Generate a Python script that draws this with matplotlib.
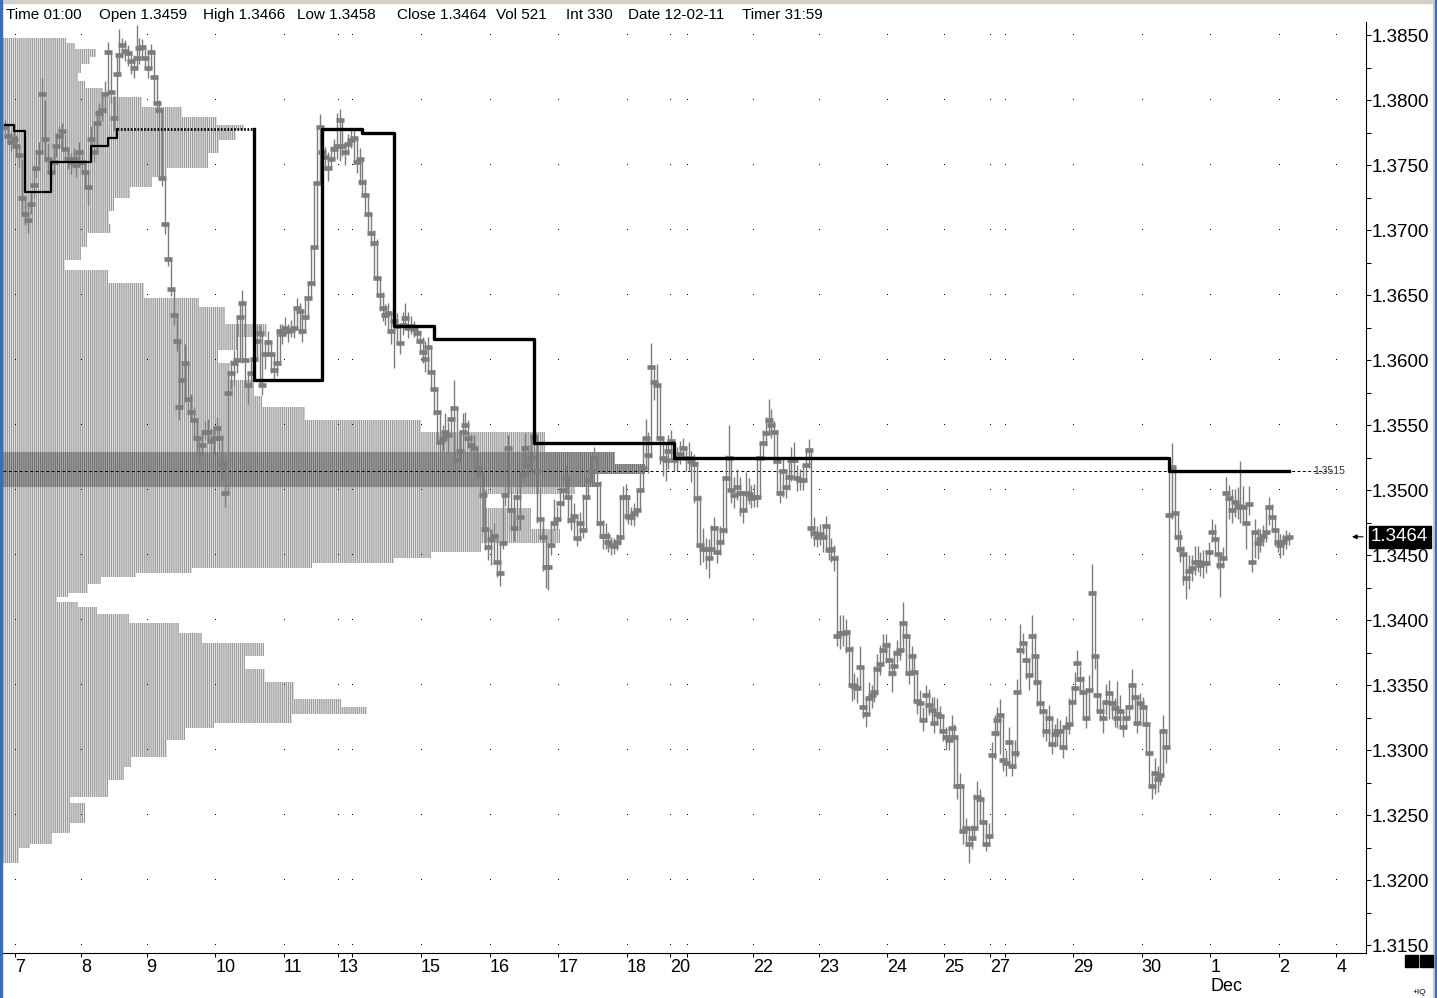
import numpy as np
import matplotlib
matplotlib.use("Agg")
from matplotlib import pyplot as plt
from matplotlib.patches import Rectangle

plt.rcParams['font.family'] = ['Liberation Sans', 'DejaVu Sans']
plt.rcParams['hatch.linewidth'] = 1.0

# hourly closes, in pips above 1.3000, one row per session
close_pips = [
    779, 772, 768, 770, 765, 758, 725, 712, 708, 720, 735, 748, 760, 805, 770, 755, 745, 752, 765, 772, 776, 762, 755, 752, 755, 750, 760,
    752, 745, 733, 770, 760, 782, 790, 792, 805, 837, 806, 786, 820, 835, 842, 838, 836, 830, 825, 832, 840, 841, 832,
    825, 837, 818, 798, 792, 740, 705, 678, 655, 635, 615, 564, 585, 598, 570, 560, 554, 540, 528, 535, 545, 545, 538, 540,
    548, 540, 520, 498, 575, 590, 598, 600, 633, 644, 600, 581, 590, 601, 615, 621, 581, 605, 614, 605, 592, 598, 622, 620,
    625, 622, 623, 625, 640, 638, 622, 633, 648, 659, 687, 736, 779, 760, 756, 748, 755, 762, 765,
    785, 765, 760, 766, 769,
    771, 752, 755, 737, 727, 712, 698, 690, 663, 650, 640, 635, 636, 622, 630, 626, 613, 627, 632, 625, 626, 624, 621, 615,
    606, 601, 610, 591, 578, 560, 537, 540, 545, 542, 555, 563, 523, 530, 545, 550, 540, 535, 532, 517, 512, 496, 470, 456,
    462, 465, 445, 436, 459, 496, 532, 485, 471, 495, 479, 512, 532, 519, 525, 541, 515, 478, 464, 441, 441, 458, 475, 478,
    490, 500, 509, 495, 477, 480, 463, 475, 469, 495, 508, 515, 525, 505, 475, 465, 465, 460, 458, 457, 460, 464, 495, 495,
    480, 479, 482, 485, 500, 517, 540, 527, 595, 583, 581, 540, 525, 523, 530,
    538, 523, 525, 528, 532, 525,
    525, 522, 520, 494, 458, 455, 455, 448, 455, 471, 452, 460, 469, 509, 525, 500, 496, 502, 498, 485, 498, 497, 494,
    495, 495, 525, 536, 544, 554, 550, 545, 522, 498, 515, 502, 510, 523, 523, 509, 508, 508, 519, 531, 471, 467, 464,
    466, 464, 472, 454, 455, 448, 388, 390, 390, 391, 378, 350, 349, 348, 364, 333, 328, 340, 342, 345, 362, 366, 377, 381,
    369, 359, 365, 375, 377, 398, 388, 359, 372, 360, 338, 336, 323, 342, 335, 331, 321, 328, 326, 315,
    310, 308, 317, 310, 272, 272, 238, 240, 228, 232, 240, 264, 262, 245, 228, 234,
    296, 313, 323, 327, 292,
    290, 306, 288, 298, 345, 377, 382, 369, 358, 388, 372, 352, 336, 330, 315, 325, 305, 312, 315, 315, 302, 318, 320, 337,
    348, 367, 355, 345, 325, 346, 421, 372, 342, 330, 325, 337, 344, 336, 332, 325, 330, 318, 325, 333, 350, 341, 321, 336,
    333, 320, 298, 272, 282, 278, 281, 315, 302, 481, 518, 482, 464, 455, 451, 432, 438, 440, 445, 445, 442, 444, 444, 452,
    468, 462, 451, 442, 448, 498, 494, 485, 491, 488, 487, 487, 475, 489, 445, 468, 459, 462, 465, 468, 487, 479, 469, 460,
    458, 460, 463, 464,
]

# high above close and low below close, pips
wick_up = [
    6, 9, 8, 6, 8, 7, 30, 14, 12, 10, 12, 10, 8, 12, 30, 12, 8, 10, 10, 8, 6, 12, 9, 7, 8, 10, 8,
    10, 8, 12, 10, 22, 10, 8, 12, 10, 8, 31, 18, 16, 20, 6, 8, 6, 8, 10, 26, 8, 6, 9,
    12, 6, 19, 20, 8, 52, 35, 27, 23, 20, 20, 50, 12, 14, 28, 14, 10, 14, 12, 10, 8, 10, 10, 8,
    8, 10, 22, 22, 15, 10, 10, 33, 12, 10, 44, 10, 11, 14, 12, 6, 40, 10, 8, 9, 13, 24, 6, 8,
    8, 6, 8, 16, 8, 6, 16, 16, 12, 28, 50, 44, 10, 20, 8, 12, 10, 8, 25,
    8, 20, 8, 8, 8,
    6, 19, 8, 18, 12, 16, 15, 10, 30, 14, 12, 8, 8, 15, 8, 10, 15, 10, 12, 12, 8, 6, 6, 8,
    12, 14, 8, 20, 14, 18, 24, 10, 14, 10, 10, 22, 40, 16, 14, 10, 14, 8, 10, 16, 8, 18, 30, 15,
    8, 10, 22, 24, 38, 38, 10, 48, 26, 12, 34, 22, 12, 16, 18, 15, 28, 38, 15, 24, 18, 17, 18, 10,
    12, 10, 10, 16, 20, 10, 18, 8, 28, 15, 10, 12, 8, 22, 32, 12, 10, 8, 6, 6, 6, 32, 8, 10,
    16, 8, 8, 16, 18, 24, 15, 18, 18, 13, 16, 40, 16, 14, 12,
    8, 16, 8, 10, 8, 8,
    12, 8, 8, 28, 38, 16, 8, 14, 18, 8, 20, 12, 42, 18, 25, 26, 14, 14, 12, 14, 16, 12, 10,
    10, 30, 12, 10, 12, 16, 12, 8, 24, 18, 10, 14, 15, 10, 14, 10, 8, 12, 13, 8, 60, 12, 8,
    8, 10, 8, 18, 8, 10, 62, 14, 14, 10, 14, 30, 10, 8, 16, 32, 12, 12, 8, 20, 12, 15, 12, 8,
    14, 10, 12, 10, 22, 16, 10, 30, 8, 14, 22, 10, 10, 8, 12, 10, 20, 12, 8, 12,
    8, 10, 10, 10, 38, 10, 34, 8, 12, 10, 26, 12, 8, 18, 18, 10,
    10, 14, 10, 12, 35,
    10, 12, 18, 10, 10, 20, 8, 14, 12, 16, 18, 20, 16, 8, 16, 10, 20, 8, 10, 8, 12, 8, 20, 12,
    12, 10, 10, 12, 20, 12, 22, 50, 30, 14, 12, 14, 10, 8, 8, 28, 12, 12, 10, 17, 12, 8, 20, 8,
    8, 14, 22, 10, 12, 10, 34, 12, 14, 37, 18, 36, 18, 14, 6, 18, 12, 10, 12, 12, 10, 10, 10, 8,
    10, 12, 10, 8, 8, 12, 10, 16, 10, 14, 35, 16, 12, 14, 23, 10, 12, 8, 8, 20, 8, 10, 10, 8,
    8, 6, 6, 4,
]
wick_dn = [
    8, 6, 7, 5, 9, 10, 12, 8, 10, 8, 10, 8, 10, 45, 16, 10, 8, 7, 9, 8, 14, 9, 8, 9, 7, 9, 10,
    8, 10, 14, 6, 8, 22, 10, 8, 15, 32, 8, 10, 34, 15, 10, 8, 10, 10, 8, 7, 12, 10, 8,
    8, 14, 20, 8, 52, 6, 8, 6, 6, 8, 8, 10, 20, 30, 12, 8, 14, 10, 8, 7, 6, 8, 9, 12,
    10, 22, 12, 11, 77, 12, 17, 10, 33, 46, 20, 15, 9, 10, 16, 40, 8, 12, 11, 15, 8, 10, 26, 8,
    6, 8, 5, 8, 16, 18, 8, 12, 16, 12, 30, 50, 42, 8, 10, 10, 8, 8, 10,
    32, 8, 10, 8, 6,
    20, 8, 20, 10, 16, 14, 10, 28, 14, 12, 10, 8, 15, 10, 36, 14, 8, 8, 8, 8, 6, 6, 8, 10,
    8, 10, 20, 14, 20, 24, 8, 10, 8, 14, 14, 42, 10, 8, 16, 12, 8, 8, 16, 8, 18, 28, 16, 10,
    20, 22, 12, 10, 4, 8, 48, 16, 10, 26, 10, 4, 15, 8, 10, 28, 40, 16, 26, 16, 18, 8, 6, 8,
    14, 12, 16, 20, 8, 18, 6, 14, 6, 26, 14, 8, 22, 32, 12, 10, 10, 8, 8, 6, 6, 6, 32, 18,
    6, 6, 10, 6, 16, 18, 24, 14, 70, 14, 42, 20, 14, 16, 14,
    16, 8, 10, 8, 8, 10,
    10, 16, 30, 38, 16, 10, 16, 16, 8, 20, 8, 10, 8, 42, 25, 10, 10, 10, 18, 10, 14, 8, 8,
    8, 8, 30, 12, 10, 10, 10, 24, 25, 8, 20, 8, 10, 16, 14, 10, 8, 8, 12, 14, 8, 10, 8,
    8, 12, 18, 8, 10, 10, 8, 12, 10, 16, 28, 12, 10, 12, 16, 8, 10, 12, 10, 8, 20, 8, 10, 14,
    12, 14, 8, 8, 8, 22, 30, 8, 14, 22, 10, 14, 8, 20, 8, 12, 8, 8, 12, 8,
    10, 8, 8, 38, 10, 36, 10, 12, 15, 8, 8, 24, 18, 16, 6, 8,
    62, 20, 12, 30, 8,
    10, 18, 8, 12, 50, 32, 8, 14, 12, 30, 22, 18, 8, 20, 8, 22, 8, 10, 12, 12, 8, 18, 8, 18,
    10, 14, 12, 20, 8, 20, 75, 10, 12, 8, 12, 10, 20, 12, 14, 8, 12, 8, 8, 8, 18, 20, 8, 16,
    14, 22, 26, 10, 16, 10, 8, 34, 12, 180, 40, 18, 12, 10, 24, 16, 14, 10, 10, 8, 8, 12, 8, 10,
    8, 10, 12, 24, 8, 50, 16, 10, 12, 10, 12, 14, 20, 8, 8, 20, 12, 10, 8, 8, 14, 10, 12, 8,
    10, 10, 8, 6,
]

# developing point of control: first bar of each level, level in pips
poc_start = [0, 3, 7, 16, 30, 36, 39, 87, 111, 125, 136, 150, 185, 234, 407]
poc_level = [781, 776, 729, 752, 765, 771, 778, 585, 778, 775, 626, 616, 536, 525, 515]
poc_price = 1.3515

# volume profile: row edges in pips (top to bottom) and relative volume per row
prof_edges = [848, 844, 839, 833, 828, 821, 815, 809, 802, 795, 787, 781, 777, 769, 759, 748, 741, 733, 725, 715,
              705, 698, 687, 677, 669, 659, 648, 641, 628, 618, 608, 598, 585, 572, 564, 554, 545, 529, 520, 512,
              502, 497, 486, 470, 459, 452, 448, 444, 440, 436, 433, 428, 421, 418, 414, 410, 405, 398, 390, 382,
              372, 362, 352, 339, 333, 328, 321, 317, 308, 295, 287, 277, 264, 259, 244, 236, 228, 225, 213]
prof_vol = [63, 72, 93, 87, 78, 75, 82, 100, 140, 180, 215, 242, 234, 217, 206, 165, 150, 128, 112, 106,
            108, 84, 78, 62, 105, 142, 197, 223, 265, 235, 216, 228, 252, 260, 303, 420, 545, 615, 645, 595,
            575, 485, 530, 560, 480, 430, 393, 310, 190, 134, 98, 85, 65, 54, 75, 94, 127, 177, 200, 262,
            243, 263, 292, 340, 366, 290, 212, 183, 165, 129, 122, 105, 67, 82, 67, 49, 27, 16]
value_area = [502, 529]

# first bar of each session and its date label
day_start = [4, 27, 50, 74, 98, 117, 122, 146, 170, 194, 218, 233, 239, 262, 285, 309, 329, 345, 350, 374, 398, 422, 446, 466]
day_label = ["7", "8", "9", "10", "11", "13", "", "15", "16", "17", "18", "20", "", "22", "23", "24", "25", "27", "", "29", "30", "1", "2", "4"]

header_items = ["Time 01:00", "Open 1.3459", "High 1.3466", "Low 1.3458", "Close 1.3464",
                "Vol 521", "Int 330", "Date 12-02-11", "Timer 31:59"]
header_x = [6, 99, 203, 297, 397, 496, 566, 628, 742]
last_price = 1.3464

assert len(close_pips) == len(wick_up) == len(wick_dn)

close = 1.3 + np.array(close_pips) / 1e4
high = close + np.array(wick_up) / 1e4
low = close - np.array(wick_dn) / 1e4
bars = np.arange(len(close))

W, H = 1437, 998
fig = plt.figure(figsize=(W / 100, H / 100), dpi=100)
ax = fig.add_axes([3 / W, 45 / H, 1363 / W, 931 / H])
x_left, x_right = -0.7, 475.9
ax.set_xlim(x_left, x_right)
ax.set_ylim(1.314385, 1.386)

# volume profile on the left
edges = 1.3 + np.array(prof_edges) / 1e4
vol = np.array(prof_vol, dtype=float)
widths = vol / vol.max() * 224.5
top_p = np.array(prof_edges[:-1])
bot_p = np.array(prof_edges[1:])
dark = (bot_p >= value_area[0]) & (top_p <= value_area[1])
faces = ['#bdbdbd' if d else 'white' for d in dark]
hatch_cols = ['#707070' if d else '#9c9c9c' for d in dark]
ax.barh(edges[1:], widths, height=edges[:-1] - edges[1:], left=x_left, align='edge',
        color=faces, edgecolor=hatch_cols, linewidth=0, hatch='|' * 8, zorder=1)

# dotted grid at day ticks and price levels
tick_x = np.array(day_start) - 0.5
levels = np.arange(1.3150, 1.38501, 0.005)
gx, gy = np.meshgrid(tick_x, levels)
ax.plot(gx.ravel(), gy.ravel(), ',', color='black', zorder=2)

# profile POC line
ax.plot([x_left, 463.6], [poc_price, poc_price], color='black', lw=0.7, ls=(0, (3, 2.5)), zorder=3)
ax.text(457.3, poc_price, "1.3515", fontsize=7.5, color='#303030', va='center', ha='left', zorder=6)

# price bars
ax.vlines(bars, low, high, colors='#7c7c7c', linewidth=1.0, zorder=4)
ax.plot(bars, close, ls='none', marker='_', ms=5.2, mew=3.3, color='#7c7c7c', zorder=4)

# developing POC step line
lv = 1.3 + np.array(poc_level) / 1e4
ax.step(poc_start[:7], lv[:7], where='post', color='black', lw=1.6, zorder=5)
ax.plot([poc_start[6], poc_start[7]], [lv[6], lv[6]], color='black', lw=2, ls=(0, (0.6, 0.6)), zorder=5)
xs = [poc_start[7]] + poc_start[7:] + [len(close) - 1]
ys = [lv[6]] + list(lv[7:]) + [lv[-1]]
ax.step(xs, ys, where='post', color='black', lw=2.4, zorder=5)

# axes
for s in ['top', 'left']:
    ax.spines[s].set_visible(False)
for s in ['right', 'bottom']:
    ax.spines[s].set_linewidth(0.8)
ax.yaxis.tick_right()
ax.set_yticks(levels)
ax.set_yticklabels(["%.4f" % v for v in levels])
ax.set_yticks(levels[:-1] + 0.0025, minor=True)
ax.tick_params(axis='y', which='both', length=3.6, width=0.75, pad=0.8, labelsize=13.5)
ax.set_xticks(tick_x)
ax.set_xticklabels(day_label, ha='left')
ax.tick_params(axis='x', length=3, width=0.75, pad=1.5, labelsize=13)
ax.text(tick_x[day_label.index("1")], -0.0264, "Dec", transform=ax.get_xaxis_transform(),
        ha='left', va='top', fontsize=13)

# last price marker
ax.annotate("1.3464", xy=(1, last_price), xycoords=('axes fraction', 'data'), xytext=(5, 0),
            textcoords='offset pixels', ha='left', va='center', color='white', fontsize=13.5,
            bbox=dict(boxstyle='square,pad=0.12', fc='black', ec='black'), annotation_clip=False, zorder=10)
ax.annotate("", xy=(0.9897, last_price), xycoords=('axes fraction', 'data'),
            xytext=(0.9978, last_price), textcoords=('axes fraction', 'data'),
            arrowprops=dict(arrowstyle='-|>', color='black', lw=0.8, mutation_scale=7, shrinkA=0, shrinkB=0))

# window chrome
fig.patches.append(Rectangle((0, 1 - 3 / H), 1, 3 / H, transform=fig.transFigure, color='#d4d0c8'))
fig.patches.append(Rectangle((0, 0), 2 / W, 1, transform=fig.transFigure, color='#3d6eb5'))
fig.patches.append(Rectangle(((W - 4) / W, 0), 2 / W, 1, transform=fig.transFigure, color='#d4d0c8'))
fig.patches.append(Rectangle(((W - 2) / W, 0), 2 / W, 1, transform=fig.transFigure, color='#3d6eb5'))
fig.patches.append(Rectangle((1405 / W, (H - 967) / H), 13 / W, 12 / H, transform=fig.transFigure, color='black'))
fig.patches.append(Rectangle((1420 / W, (H - 967) / H), 13 / W, 12 / H, transform=fig.transFigure, color='black'))
fig.text(1413 / W, 1 - 992 / H, "+IQ", fontsize=6, va='center', ha='left')

for item, hx in zip(header_items, header_x):
    fig.text(hx / W, 1 - 15 / H, item, fontsize=11, va='center', ha='left')

fig.savefig("out.png", dpi=100)
